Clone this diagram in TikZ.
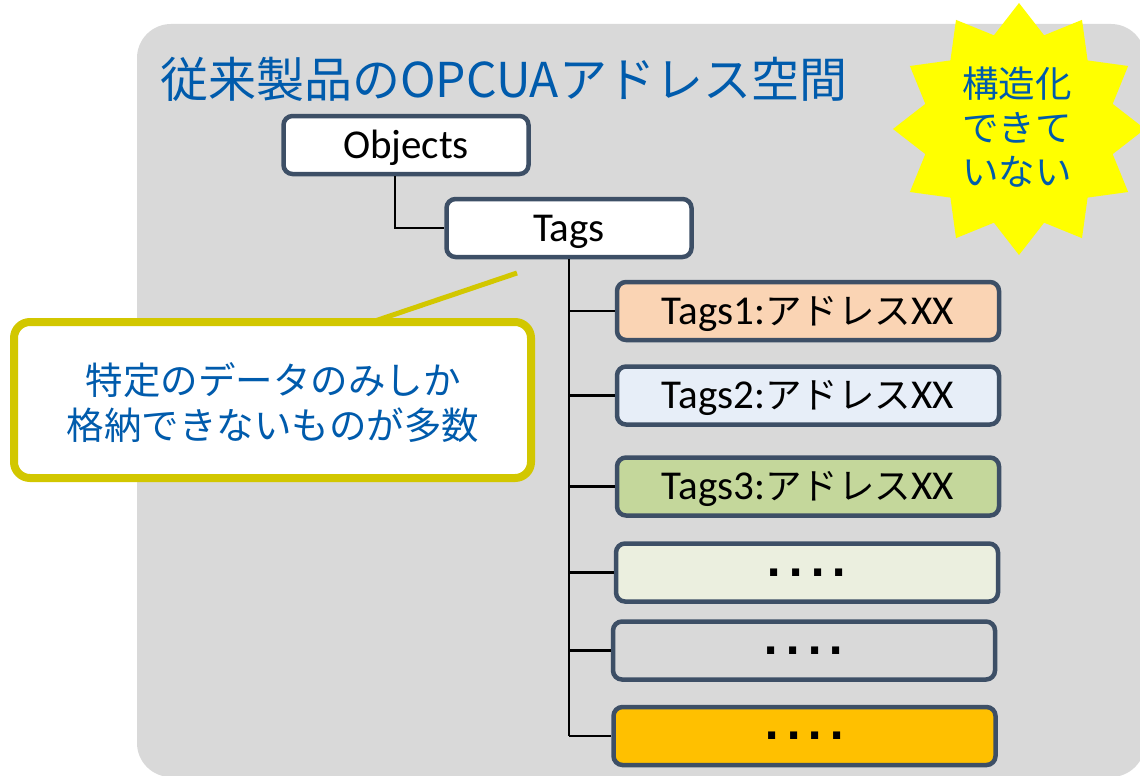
\documentclass[tikz,border=0pt]{standalone}
\usepackage{fontspec}
\usetikzlibrary{calc}
\newfontfamily\cjk{Noto Sans CJK JP}
\newfontfamily\carl{Carlito}
\newfontfamily\dvs{DejaVu Sans}
\definecolor{bggray}{HTML}{D9D9D9}
\definecolor{boxborder}{HTML}{3D4F66}
\definecolor{tblue}{HTML}{005BAC}
\definecolor{staryellow}{HTML}{FFFF00}
\definecolor{callborder}{HTML}{D2C700}
\definecolor{fillA}{HTML}{FAD4B4}
\definecolor{fillB}{HTML}{E7EEF8}
\definecolor{fillC}{HTML}{C4D79B}
\definecolor{fillD}{HTML}{EBEFDF}
\definecolor{fillF}{HTML}{FFC000}
\newcommand{\jp}[1]{{\cjk\fontsize{36.5}{44}\selectfont #1}}
\newcommand{\fourdots}{.\hspace{6.5pt}.\hspace{6.5pt}.\hspace{6.5pt}.}
\begin{document}
\begin{tikzpicture}[x=1pt,y=-1pt,
  basebox/.style={draw=boxborder, line width=4.5pt, rounded corners=9pt, inner sep=0pt, text=black},
  tbox/.style={basebox, minimum width=382pt, minimum height=58pt, text height=26pt, text depth=0pt, font=\carl\fontsize{41}{48}\selectfont},
  dbox/.style={basebox, minimum width=382pt, minimum height=58pt, font=\dvs\bfseries\fontsize{40}{48}\selectfont},
  topbox/.style={basebox, fill=white, minimum width=245pt, minimum height=58pt, text height=26pt, text depth=0pt, font=\carl\fontsize{41}{48}\selectfont},
  conn/.style={line width=2.5pt, draw=black},
  bluetxt/.style={text=tblue, inner sep=0pt, anchor=base},
]
\useasboundingbox (0,0) rectangle (1140,776);
\clip (0,0) rectangle (1140,776);
% background panel
\fill[bggray, rounded corners=34pt] (137,24) rectangle (1145,777);
% starburst
\begin{scope}[shift={(1019,129)}]
\fill[staryellow] (90:126) \foreach \i in {1,...,23} { -- ({90+\i*15}:{mod(\i,2)==0 ? 126 : 97}) } -- cycle;
\end{scope}
\node[bluetxt, font=\cjk\fontsize{36.5}{44}\selectfont] (s1) at (1017,97) {構造化};
\node[bluetxt, font=\cjk\fontsize{36.5}{44}\selectfont] (s2) at (1017,141) {できて};
\node[bluetxt, font=\cjk\fontsize{36.5}{44}\selectfont] (s3) at (1017,185) {いない};
% title
\node[text=tblue, inner sep=0pt, anchor=base west, font=\cjk\fontsize{48}{56}\selectfont] (title) at (160,97) {従来製品のOPCUAアドレス空間};
% tree boxes
\node[topbox] (objects) at (406,145) {Objects};
\node[topbox] (tags) at (569,228) {Tags};
\node[tbox, fill=fillA] (b1) at (808,311) {Tags1:\jp{アドレス}XX};
\node[tbox, fill=fillB] (b2) at (808,395.5) {Tags2:\jp{アドレス}XX};
\node[tbox, fill=fillC] (b3) at (808,486.5) {Tags3:\jp{アドレス}XX};
\node[dbox, fill=fillD] (b4) at (807,572.5) {\fourdots};
\node[dbox, fill=bggray] (b5) at (804,650.5) {\fourdots};
\node[dbox, fill=fillF] (b6) at (804.5,736) {\fourdots};
% connectors
\draw[conn] ($(objects.south)+(-11,0)$) |- (tags.west);
\draw[conn] (tags.south) -- (tags.south |- b6.west);
\foreach \b in {b1,b2,b3,b4,b5,b6} {
  \draw[conn] (tags.south |- \b.west) -- (\b.west);
}
% callout
\coordinate (tip) at (517,273);
\draw[callborder, line width=5pt] (375,321) -- (tip);
\node[draw=callborder, line width=8pt, fill=white, rounded corners=16pt, minimum width=517pt, minimum height=156pt, inner sep=0pt] (callout) at (272.5,400) {};
\node[bluetxt, font=\cjk\fontsize{37.5}{45}\selectfont] (co1) at (273,394) {特定のデータのみしか};
\node[bluetxt, font=\cjk\fontsize{37.5}{45}\selectfont] (co2) at (273,439) {格納できないものが多数};
\end{tikzpicture}
\end{document}
